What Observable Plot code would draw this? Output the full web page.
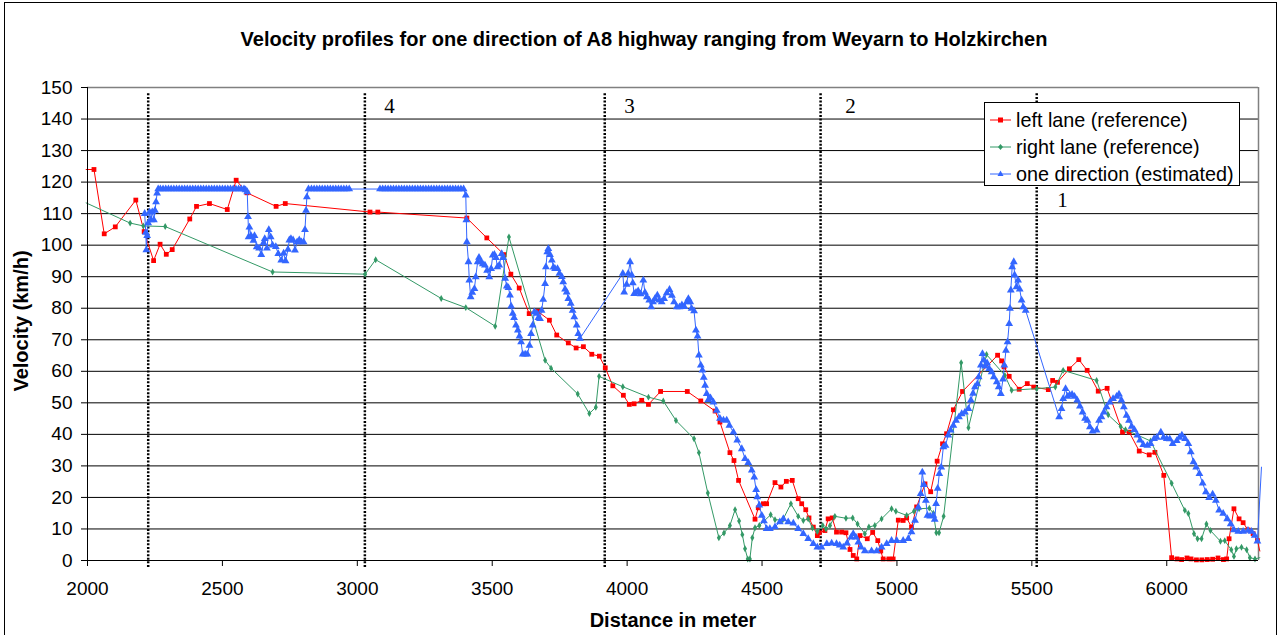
<!DOCTYPE html>
<html><head><meta charset="utf-8">
<script src="https://cdn.jsdelivr.net/npm/d3@7"></script>
<script src="https://cdn.jsdelivr.net/npm/@observablehq/plot@0.6"></script>
<style>
body{margin:0;background:#fff;font-family:"Liberation Sans",Arial,sans-serif;}
#wrap{position:relative;width:1284px;height:635px;overflow:hidden;background:#fff;}
#border{position:absolute;left:4px;top:2px;width:1273px;height:680px;border:1px solid #000;box-sizing:border-box;}
#chart{position:absolute;left:0;top:0;}
#title{position:absolute;left:0;width:1288px;top:28px;text-align:center;font-weight:bold;font-size:20px;white-space:nowrap;}
#ylab{position:absolute;left:21px;top:321px;transform:translate(-50%,-50%) rotate(-90deg);font-weight:bold;font-size:20px;white-space:nowrap;}
#xlab{position:absolute;left:673px;top:620px;transform:translate(-50%,-50%);font-weight:bold;font-size:20px;white-space:nowrap;}
#legend{position:absolute;left:984px;top:102px;width:256px;height:84px;border:1px solid #000;background:#fff;box-sizing:border-box;}
.row{position:absolute;left:0;height:26px;display:flex;align-items:center;font-size:19.8px;white-space:nowrap;}
.row svg{margin-left:5px;margin-right:5px;}
</style>
</head><body>
<div id="wrap">
  <div id="border"></div>
  <div id="chart"></div>
  <div id="title"></div>
  <div id="ylab"></div>
  <div id="xlab"></div>
  <div id="legend"></div>
</div>
<script>
const titleText = "Velocity profiles for one direction of A8 highway ranging from Weyarn to Holzkirchen";
const xLabel = "Distance in meter";
const yLabel = "Velocity (km/h)";
const xTicks = [2000, 2500, 3000, 3500, 4000, 4500, 5000, 5500, 6000];
const yTicks = [0,10,20,30,40,50,60,70,80,90,100,110,120,130,140,150];
const xDomain = [2000, 6340];
const seriesNames = ["left lane (reference)", "right lane (reference)", "one direction (estimated)"];
const sectionX = [2225, 3028, 3917, 4717, 5518];
const sectionLabels = [["4", 3100, 144.1], ["3", 3989, 144.1], ["2", 4808, 144.1], ["1", 5594, 114.2]];

const leftLane = [[1995,124],[2024,124],[2062,103.6],[2103,105.8],[2179,114.3],[2210,104.3],[2245,95.1],[2269,100.3],[2292,97.1],[2314,98.6],[2379,108.3],[2404,112.3],[2452,113.2],[2518,111.3],[2551,120.6],[2591,116.6],[2699,112.3],[2733,113.2],[3047,110.5],[3076,110.5],[3406,108.6],[3480,102.3],[3544,97.0],[3569,90.8],[3600,86.4],[3637,78.3],[3669,79.0],[3712,76.2],[3739,71.5],[3782,69.0],[3811,67.4],[3838,67.8],[3869,65.4],[3897,64.8],[3919,61.1],[3947,55.4],[3986,52.4],[4008,49.5],[4026,49.7],[4054,50.8],[4079,49.5],[4124,53.6],[4223,53.6],[4273,50.6],[4326,47.4],[4344,43.9],[4381,34.2],[4396,31.7],[4413,25.4],[4474,13.1],[4486,16.7],[4505,18.0],[4517,18.0],[4548,24.7],[4570,23.3],[4590,25.1],[4612,25.4],[4634,19.6],[4647,18.0],[4662,16.1],[4674,13.5],[4690,10.6],[4705,7.9],[4712,8.8],[4733,9.5],[4745,13.2],[4760,13.5],[4776,9.0],[4795,9.0],[4811,8.8],[4826,3.5],[4838,1.6],[4851,0.5],[4863,7.9],[4890,6.9],[4910,8.9],[4929,6.3],[4940,3],[4949,0.5],[4970,0.5],[4986,0.5],[5005,12.8],[5023,12.7],[5036,13.5],[5054,10.6],[5073,17],[5104,24.3],[5125,21.8],[5149,31.5],[5169,37.0],[5184,40.2],[5209,47.8],[5243,53.6],[5373,65.1],[5388,63.3],[5397,61.4],[5416,58.4],[5453,54.3],[5483,56.1],[5507,55.0],[5561,54.2],[5577,57.1],[5595,56.5],[5639,60.8],[5674,63.7],[5705,60.3],[5746,53.7],[5779,54.6],[5836,40.7],[5861,40.7],[5898,34.7],[5935,33.5],[5956,34.3],[5989,27.0],[6018,0.9],[6038,0.5],[6055,0.3],[6075,0.8],[6090,0.5],[6110,0.2],[6130,0.2],[6150,0.3],[6170,0.4],[6190,0.8],[6210,0.3],[6222,0.5],[6231,6.9],[6249,16.4],[6268,13.2],[6283,12.0],[6301,9.7],[6320,8.5],[6336,6.3],[6345,3]];

const rightLane = [[1995,113.4],[2158,107],[2207,106.1],[2288,105.9],[2686,91.5],[3029,90.8],[3068,95.4],[3311,83.1],[3402,80.2],[3511,74.3],[3562,102.6],[3696,63.5],[3718,61.0],[3817,52.8],[3860,46.6],[3884,48.6],[3896,58.4],[3984,55.1],[4079,51.8],[4134,50.6],[4181,44.4],[4248,38.6],[4266,34.2],[4299,21.4],[4340,7.2],[4359,8.7],[4381,11.1],[4400,16.1],[4415,12.5],[4427,8.2],[4437,3.7],[4447,0.5],[4455,0.5],[4464,7.2],[4474,10.4],[4490,11.1],[4532,14.5],[4548,12.9],[4577,12.9],[4607,18.0],[4634,14.0],[4653,12.7],[4671,13.2],[4687,10.3],[4705,9.2],[4725,11.1],[4737,10.0],[4752,11.1],[4770,14.0],[4811,13.4],[4836,13.5],[4854,11.6],[4881,8.5],[4896,10.6],[4918,11.1],[4943,13.2],[4980,16.4],[4996,15.6],[5036,14.3],[5063,15.6],[5082,16.4],[5120,16.6],[5135,15.0],[5146,8.8],[5156,8.8],[5173,14.0],[5238,62.7],[5265,42.1],[5332,65.3],[5400,58.7],[5425,54.0],[5518,54.5],[5587,55.0],[5616,60.3],[5740,57.1],[5783,46.2],[5829,42.5],[5847,41.5],[5940,37.9],[6018,24.5],[6067,15.9],[6080,14.9],[6101,8.5],[6114,6.9],[6129,6.9],[6147,11.6],[6162,9.5],[6199,6.1],[6215,6.3],[6239,3.4],[6249,1.3],[6258,3.7],[6277,4.2],[6296,3.4],[6308,0.9],[6327,0.5],[6345,0.9]];

const oneDirection = [[2212,110],[2216,104],[2218,98.5],[2221,103],[2225,107],[2230,110.5],[2235,108],[2240,110.5],[2246,108],[2250,111],[2254,113.7],[2258,116.5],[2262,117.8],
[2270,117.8],[2280,117.8],[2290,117.8],[2300,117.8],[2310,117.8],[2320,117.8],[2330,117.8],[2340,117.8],[2350,117.8],[2360,117.8],[2370,117.8],[2380,117.8],[2390,117.8],[2400,117.8],[2410,117.8],[2420,117.8],[2430,117.8],[2440,117.8],[2450,117.8],[2460,117.8],[2470,117.8],[2480,117.8],[2490,117.8],[2500,117.8],[2510,117.8],[2520,117.8],[2530,117.8],[2540,117.8],[2550,117.8],[2560,117.8],[2570,117.8],[2580,117.8],
[2586,117.5],[2592,116.9],[2595,109],[2597,102.6],[2600,105.7],[2606,103],[2615,101.5],[2619,103],[2627,99.4],[2636,99],[2644,97],[2652,100.7],[2657,102],[2665,99],[2672,104.9],[2679,102.6],[2686,100],[2698,99.5],[2707,97.3],[2718,95.2],[2727,97.4],[2734,95],[2743,98.6],[2748,101.6],[2754,102],[2762,101.6],[2769,98.4],[2777,101],[2785,101.6],[2793,101],[2801,101],[2806,104.9],[2810,111],[2813,115.3],[2819,117.8],
[2830,117.8],[2840,117.8],[2850,117.8],[2860,117.8],[2870,117.8],[2880,117.8],[2890,117.8],[2900,117.8],[2910,117.8],[2920,117.8],[2930,117.8],[2940,117.8],[2950,117.8],[2960,117.8],[2970,117.8],
[3084,117.8],[3094,117.8],[3104,117.8],[3114,117.8],[3124,117.8],[3134,117.8],[3144,117.8],[3154,117.8],[3164,117.8],[3174,117.8],[3184,117.8],[3194,117.8],[3204,117.8],[3214,117.8],[3224,117.8],[3234,117.8],[3244,117.8],[3254,117.8],[3264,117.8],[3274,117.8],[3284,117.8],[3294,117.8],[3304,117.8],[3314,117.8],[3324,117.8],[3334,117.8],[3344,117.8],[3354,117.8],[3364,117.8],[3374,117.8],[3384,117.8],[3394,117.8],
[3402,115.8],[3404,108],[3406,101],[3412,94.7],[3415,88.9],[3420,83.6],[3426,85],[3434,86.2],[3439,89.9],[3446,94.7],[3451,96.1],[3458,94.7],[3465,94],[3473,93.6],[3481,92],[3489,89.9],[3496,92.5],[3502,96.8],[3508,97],[3514,96],[3519,93.1],[3526,93.6],[3535,97.3],[3541,96],[3548,89.4],[3554,87],[3560,86.5],[3566,84.1],[3570,80.6],[3576,78.3],[3581,77],[3588,74.6],[3595,73],[3601,71.1],[3607,69.3],[3613,65.4],[3622,65.4],[3630,65.4],[3638,68.2],[3644,71.9],[3650,74.6],[3656,78.8],[3665,78.3],[3671,77],[3677,76.7],[3683,79.3],[3689,82.8],[3696,87.8],[3699,93.1],[3704,97.8],[3708,98.9],[3714,97],[3721,95.2],[3727,93],[3733,92.5],[3742,92.5],[3749,91],[3758,90],[3763,88.3],[3770,86],[3776,85.1],[3782,83],[3791,81.5],[3798,79.3],[3804,77.2],[3813,74.6],[3819,71.9],[3825,70.4],
[3984,91],[3989,85.1],[3998,87.5],[4004,91],[4011,94.7],[4017,90.5],[4021,88],[4026,84.6],[4033,85],[4041,85.5],[4050,84.5],[4060,88.9],[4066,85],[4073,83.6],[4082,82.5],[4089,80.4],[4096,82],[4103,83],[4112,84.1],[4119,82.5],[4128,82],[4137,83],[4147,84.8],[4157,85.9],[4166,84],[4174,82],[4184,80.4],[4194,80.4],[4203,81],[4212,80.5],[4221,82],[4227,83],[4234,82],[4239,79.9],[4248,79.1],[4255,73],[4261,71.1],[4266,65.1],[4273,61.9],[4279,60.3],[4284,58],[4289,55.5],[4295,52.9],[4301,51],[4309,51.5],[4320,50.2],[4332,47.6],[4344,45],[4357,44.5],[4369,44.5],[4379,42.8],[4394,40.7],[4408,38.1],[4425,35.4],[4437,32.3],[4449,31],[4462,28.6],[4471,26.4],[4478,22.4],[4482,20.1],[4490,17.5],[4499,14.3],[4507,12.5],[4517,10.1],[4529,10.1],[4548,10.6],[4566,12.2],[4579,13.2],[4597,12.2],[4616,11.8],[4634,10.1],[4653,8.5],[4671,6.9],[4690,5.3],[4705,4.2],[4720,4.2],[4740,5.3],[4758,5.5],[4776,5.3],[4788,4.8],[4801,4.2],[4815,5.5],[4830,7.4],[4838,8.5],[4848,7.4],[4857,5.8],[4867,4.2],[4881,3.0],[4906,3.0],[4925,3.0],[4943,4.2],[4962,5.3],[4980,6.3],[4999,6.3],[5023,6.3],[5042,6.9],[5054,9.0],[5067,12.7],[5079,16.9],[5088,21.2],[5094,28],[5100,24],[5107,19],[5113,14.3],[5123,14],[5135,14.3],[5140,13],[5145,18],[5151,22.8],[5157,27.5],[5164,29.6],[5172,36],[5180,36.5],[5190,39.7],[5199,41.3],[5209,42.8],[5219,44.4],[5230,45.5],[5240,46.5],[5252,47],[5265,48.1],[5274,50.8],[5282,53],[5289,55],[5298,56],[5303,58.2],[5311,61.9],[5317,65.6],[5322,63.5],[5327,61.6],[5334,62.6],[5342,60.8],[5351,59.8],[5359,58.2],[5370,56.6],[5377,55],[5385,52.9],[5393,57.5],[5398,61.9],[5404,66.6],[5410,69.3],[5416,75.1],[5419,79.9],[5422,85.7],[5427,93.1],[5433,94.7],[5436,90.5],[5443,86.7],[5449,88.9],[5455,86],[5462,82.5],[5468,80.4],[5477,79.3],
[5601,45.5],[5610,48.1],[5616,51.3],[5625,54.5],[5632,52],[5640,52.5],[5649,52.6],[5658,52],[5668,50.8],[5678,48.9],[5688,47],[5697,45],[5706,44.4],[5715,42.3],[5725,41],[5740,41.3],[5749,44.4],[5758,45.5],[5767,47],[5777,48.7],[5789,50.2],[5801,51.3],[5814,52],[5823,52.7],[5832,50.8],[5841,48.7],[5851,46],[5860,44.4],[5870,42.5],[5880,41.5],[5891,39.7],[5901,38.1],[5913,36.7],[5928,36.5],[5940,37],[5953,38.6],[5963,39],[5978,40.7],[5988,39],[6000,38.6],[6011,38.5],[6022,37],[6037,38],[6047,39],[6056,39.7],[6068,38.6],[6080,37],[6089,34.4],[6099,31.2],[6109,29.6],[6121,27.5],[6133,24.5],[6145,21.7],[6157,19.9],[6170,21],[6182,19],[6194,15.9],[6209,14.9],[6224,13.2],[6237,11.6],[6249,9.7],[6265,9.2],[6283,9.2],[6301,9.5],[6314,9.2],[6326,7.9],[6336,6.1],[6351,29.6]];

const colors = ["#FF0000", "#339966", "#3366FF"];
const symbols = ["square", "diamond", "triangle"];
const radii = [2.7, 2.1, 2.9];
const allSeries = [leftLane, rightLane, oneDirection];

const inside = d => d[0] >= xDomain[0] && d[0] <= xDomain[1];
const lineMarks = [];
allSeries.forEach((s, i) => {
  lineMarks.push(Plot.line(s, {x: d => d[0], y: d => d[1], stroke: colors[i], strokeWidth: 1}));
  lineMarks.push(Plot.dot(s.filter(inside), {x: d => d[0], y: d => d[1], symbol: symbols[i], r: radii[i], fill: colors[i], stroke: "none"}));
});

const chart = Plot.plot({
  width: 1284, height: 635,
  marginLeft: 87, marginRight: 26, marginTop: 87, marginBottom: 75,
  style: {fontFamily: "'Liberation Sans', Arial, sans-serif", fontSize: "19px", background: "transparent", overflow: "visible", color: "#000"},
  x: {domain: xDomain, ticks: xTicks, tickFormat: d => String(d), tickSize: 6, tickPadding: 15, label: null},
  y: {domain: [0, 150], ticks: yTicks, tickSize: 6, tickPadding: 9, label: null},
  marks: [
    Plot.ruleY(yTicks.filter(d => d > 0 && d < 150), {stroke: "#000", strokeWidth: 1}),
    Plot.ruleY([150], {stroke: "#808080", strokeWidth: 1.5}),
    Plot.ruleX([xDomain[1]], {stroke: "#808080", strokeWidth: 1.5}),
    Plot.ruleX(sectionX, {x: d => d, y1: -2.2, y2: 148, stroke: "#000", strokeWidth: 2.5, strokeDasharray: "2,1.6"}),
    Plot.text(sectionLabels, {x: d => d[1], y: d => d[2], text: d => d[0], textAnchor: "start", fontFamily: "'Liberation Serif', 'Times New Roman', serif", fontSize: 21, fill: "#000"}),
    ...lineMarks,
    Plot.ruleX([xDomain[0]], {stroke: "#000", strokeWidth: 1}),
    Plot.ruleY([0], {stroke: "#000", strokeWidth: 1})
  ]
});
document.getElementById("chart").appendChild(chart);
document.getElementById("title").textContent = titleText;
document.getElementById("xlab").textContent = xLabel;
document.getElementById("ylab").textContent = yLabel;

const legend = document.getElementById("legend");
const symbolPaths = {square: "M-2.5,-2.5h5v5h-5z", diamond: "M0,-3L2.5,0L0,3L-2.5,0z", triangle: "M0,-3.4L3,2L-3,2z"};
seriesNames.forEach((name, i) => {
  const row = document.createElement("div");
  row.className = "row";
  row.style.top = (4 + i * 27) + "px";
  row.innerHTML = `<svg width="21" height="10" viewBox="-10.5 -5 21 10"><line x1="-10.5" x2="10.5" y1="0" y2="0" stroke="${colors[i]}" stroke-width="1"/><path d="${symbolPaths[symbols[i]]}" fill="${colors[i]}"/></svg><span>${name}</span>`;
  legend.appendChild(row);
});
</script>
</body></html>
